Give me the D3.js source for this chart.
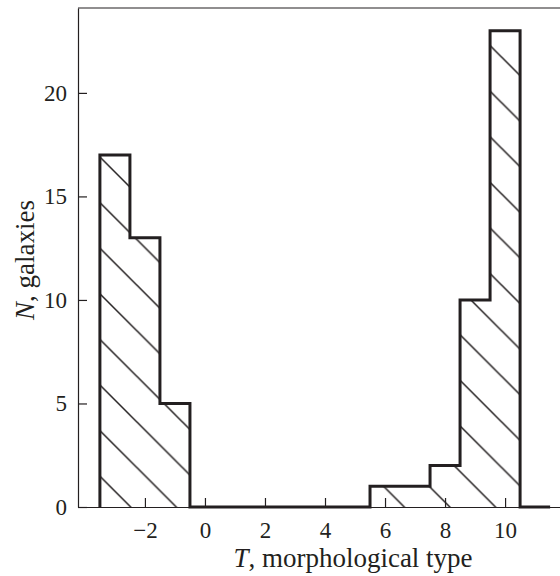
<!DOCTYPE html>
<html>
<head>
<meta charset="utf-8">
<script src="https://cdn.jsdelivr.net/npm/d3@7"></script>
<style>
  body { margin: 0; background: #fff; }
  svg { display: block; font-family: "Liberation Serif", "DejaVu Serif", serif; }
</style>
</head>
<body>
<svg></svg>
<script>
// morphological type bins (centres) and galaxy counts
const types = [-3, -2, -1, 0, 1, 2, 3, 4, 5, 6, 7, 8, 9, 10, 11];
const counts = [17, 13, 5, 0, 0, 0, 0, 0, 0, 1, 1, 2, 10, 23, 0];
const xTicks = [-2, 0, 2, 4, 6, 8, 10];
const yTicks = [0, 5, 10, 15, 20];

const width = 560;
const height = 576;
const ink = "#231f20";

const x = d3.scaleLinear().domain([-4.23, 11.83]).range([78, 560]);
const y = d3.scaleLinear().domain([0, 24.1]).range([507, 8]);

const svg = d3.select("svg")
    .attr("width", width)
    .attr("height", height)
    .attr("viewBox", [0, 0, width, height]);

// hatch pattern, "\" lines
const step = 45.6;
svg.append("defs").append("pattern")
    .attr("id", "hatch")
    .attr("patternUnits", "userSpaceOnUse")
    .attr("x", 0).attr("y", 11.5)
    .attr("width", step).attr("height", step)
  .append("path")
    .attr("d", `M0,0L${step},${step}M-2,${step - 2}L2,${step + 2}M${step - 2},-2L${step + 2},2`)
    .attr("stroke", ink)
    .attr("stroke-width", 1.5);

// bin edges as points for step curves
const pts = types.map((t, i) => [t - 0.5, counts[i]]);
const last = [types[types.length - 1] + 0.5, 0];
const outlinePts = [[pts[0][0], 0], ...pts, last];

const area = d3.area()
    .curve(d3.curveStepAfter)
    .x(d => x(d[0]))
    .y0(y(0))
    .y1(d => y(d[1]));

const line = d3.line()
    .curve(d3.curveStepAfter)
    .x(d => x(d[0]))
    .y(d => y(d[1]));

// frame: top line
svg.append("line")
    .attr("x1", x.range()[0]).attr("x2", x.range()[1])
    .attr("y1", y.range()[1]).attr("y2", y.range()[1])
    .attr("stroke", ink).attr("stroke-width", 1.2);

// shared axis styling
function styleAxis(g) {
  g.attr("font-family", null).attr("font-size", 23);
  g.select(".domain").attr("stroke", ink).attr("stroke-width", 1.2);
  g.selectAll(".tick line").attr("stroke", ink).attr("stroke-width", 1.2);
  g.selectAll(".tick text").attr("fill", ink);
}

// x axis
svg.append("g")
    .attr("transform", `translate(0,${y(0)})`)
    .call(d3.axisBottom(x).tickValues(xTicks).tickSizeInner(-9).tickSizeOuter(0).tickPadding(15))
    .call(styleAxis);

// y axis
svg.append("g")
    .attr("transform", `translate(${x.range()[0]},0)`)
    .call(d3.axisLeft(y).tickValues(yTicks).tickSizeInner(-9).tickSizeOuter(0).tickPadding(11))
    .call(styleAxis);

// hatched area + outline
svg.append("path")
    .datum([...pts, last])
    .attr("fill", "url(#hatch)")
    .attr("d", area);

svg.append("path")
    .datum(outlinePts)
    .attr("fill", "none")
    .attr("stroke", ink)
    .attr("stroke-width", 3)
    .attr("stroke-linejoin", "miter")
    .attr("d", line);

// axis titles
const xt = svg.append("text")
    .attr("x", 353).attr("y", 567)
    .attr("text-anchor", "middle")
    .attr("font-size", 27)
    .attr("fill", ink);
xt.append("tspan").attr("font-style", "italic").text("T");
xt.append("tspan").text(", morphological type");

const yt = svg.append("text")
    .attr("transform", "translate(34,260) rotate(-90)")
    .attr("text-anchor", "middle")
    .attr("font-size", 27)
    .attr("fill", ink);
yt.append("tspan").attr("font-style", "italic").text("N");
yt.append("tspan").text(", galaxies");
</script>
</body>
</html>
